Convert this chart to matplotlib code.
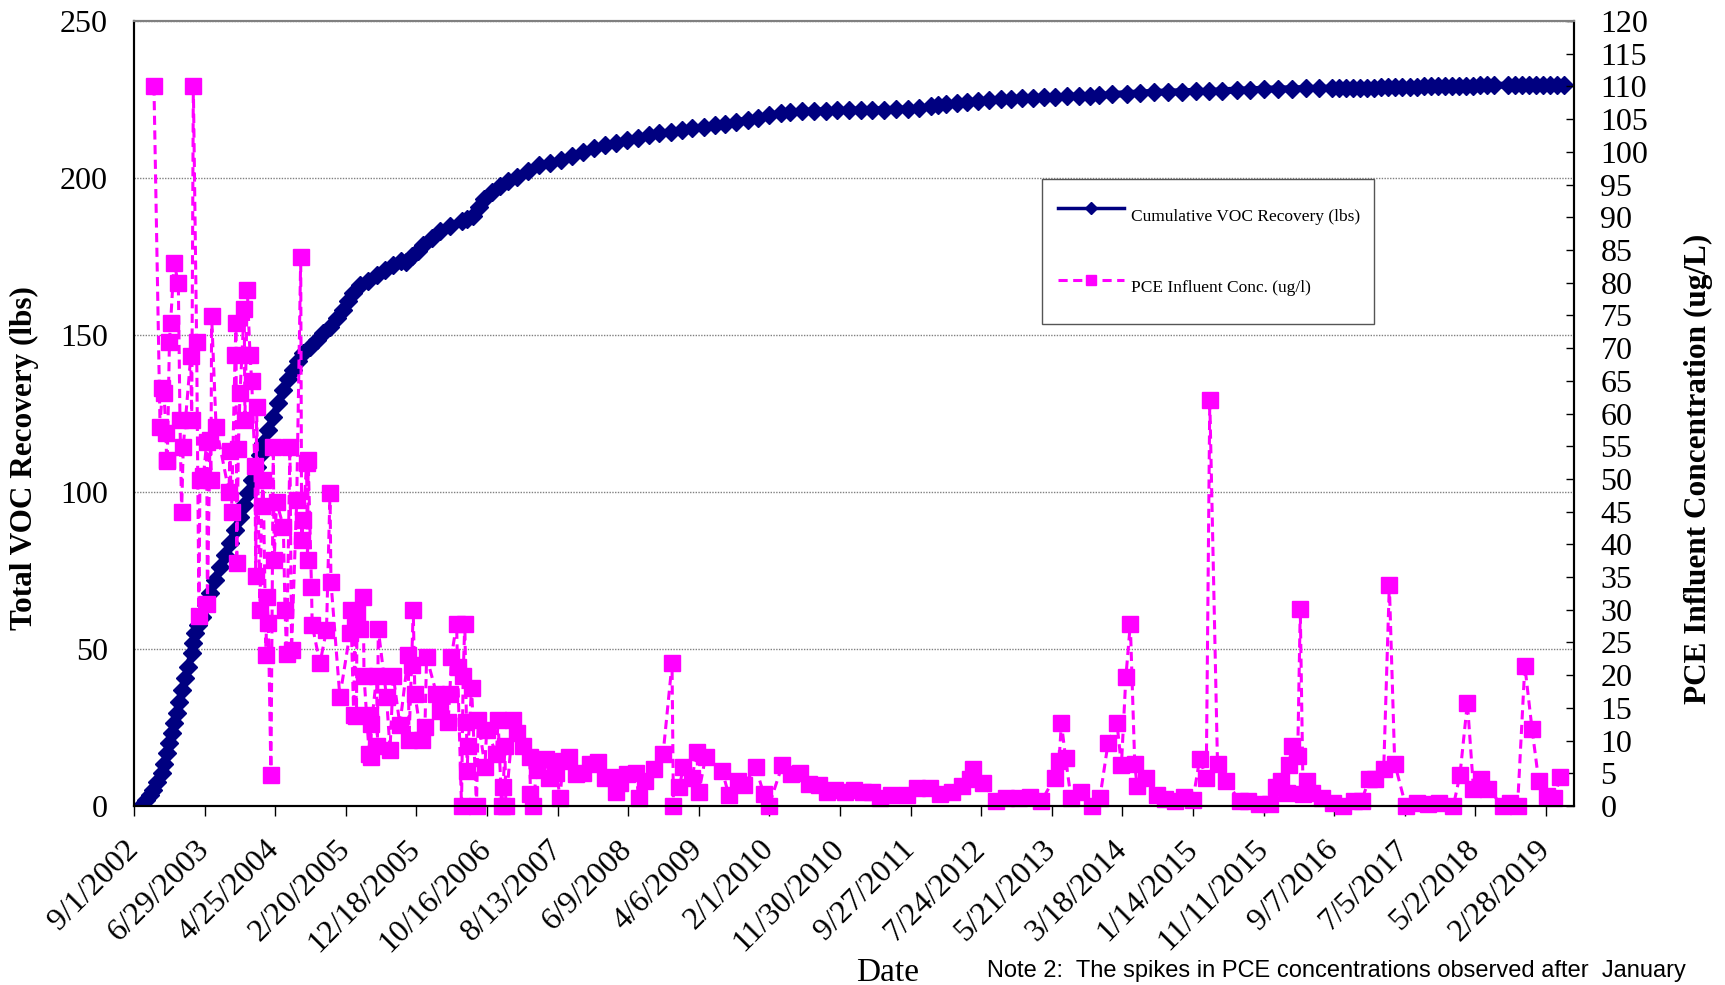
import numpy as np
import pandas as pd
import matplotlib
matplotlib.use("Agg")
import matplotlib.pyplot as plt
from matplotlib.lines import Line2D

START = np.datetime64("2002-09-01")

# Cumulative VOC recovery: days after 9/1/2002, pounds
voc_day = [33, 50, 66, 82, 100, 118, 129, 139, 150, 161, 172, 182, 193, 203, 218, 232,
           246, 253, 260, 274, 289, 306, 324, 345, 367, 388, 409, 430, 452, 470, 487,
           505, 523, 537, 551, 572, 594, 615, 636, 657, 679, 700, 722, 750, 779, 808,
           836, 864, 892, 914, 935, 963, 1000, 1035, 1070, 1105, 1140, 1160, 1187,
           1210, 1234, 1270, 1304, 1350, 1398, 1420, 1445, 1470, 1492, 1527, 1562,
           1597, 1633, 1680, 1727, 1773, 1820, 1867, 1914, 1961, 2008, 2055, 2102,
           2150, 2195, 2240, 2290, 2336, 2380, 2430, 2477, 2520, 2570, 2617, 2660,
           2710, 2758, 2800, 2850, 2899, 2950, 3000, 3050, 3100, 3150, 3200, 3250,
           3300, 3350, 3400, 3430, 3462, 3510, 3555, 3600, 3649, 3700, 3743, 3790,
           3837, 3880, 3930, 3978, 4030, 4080, 4118, 4170, 4235, 4290, 4352, 4410,
           4470, 4530, 4587, 4640, 4704, 4760, 4821, 4880, 4940, 5000, 5056, 5110,
           5141, 5171, 5201, 5231, 5261, 5291, 5321, 5351, 5381, 5411, 5441, 5471,
           5501, 5531, 5561, 5591, 5621, 5651, 5681, 5711, 5741, 5771, 5801, 5860,
           5890, 5920, 5950, 5980, 6010, 6040, 6070, 6100]
voc_lbs = [0.3, 2.0, 3.5, 5.1, 7.8, 10.4, 13.5, 16.8, 20.0, 23.1, 26.4, 29.5, 33.0, 36.9,
           40.8, 44.4, 48.6, 51.8, 55.0, 57.8, 60.3, 64.0, 67.7, 72.0, 76.2, 80.0, 83.7,
           87.9, 92.1, 95.9, 99.6, 103.8, 108.0, 111.8, 115.5, 119.8, 124.0, 128.3,
           132.5, 135.9, 138.9, 141.8, 144.2, 146.3, 148.4, 150.6, 152.7, 155.4, 158.0,
           160.8, 163.3, 165.9, 167.2, 169.0, 170.6, 172.2, 173.5, 173.2, 175.0, 176.9,
           178.7, 181.0, 183.0, 184.8, 186.4, 187.0, 188.0, 190.8, 193.4, 195.6, 197.6,
           199.1, 200.4, 202.3, 204.0, 204.8, 205.6, 207.0, 208.4, 209.5, 210.5, 211.3,
           212.0, 212.8, 213.7, 214.2, 214.8, 215.4, 215.8, 216.3, 216.8, 217.3, 217.9,
           218.6, 219.2, 219.9, 220.7, 221.0, 221.2, 221.4, 221.4, 221.5, 221.6, 221.7,
           221.7, 221.8, 221.9, 222.0, 222.2, 222.8, 223.2, 223.5, 223.9, 224.3, 224.6,
           224.9, 225.1, 225.3, 225.5, 225.6, 225.8, 225.9, 226.0, 226.1, 226.2, 226.3,
           226.6, 226.9, 227.1, 227.3, 227.4, 227.5, 227.6, 227.6, 227.8, 228.0, 228.1,
           228.3, 228.4, 228.4, 228.5, 228.6, 228.6, 228.6, 228.6, 228.7, 228.7, 228.8,
           228.8, 228.9, 228.9, 229.0, 229.0, 229.1, 229.1, 229.2, 229.2, 229.3, 229.3,
           229.3, 229.4, 229.4, 229.4, 229.5, 229.5, 229.5, 229.6, 229.6, 229.6, 229.6,
           229.7, 229.7, 229.7, 229.7, 229.7]

# PCE influent concentration: days after 9/1/2002, ug/L
pce_day = [85, 111, 121, 128, 136, 139, 142, 151, 156, 171, 189, 196, 203, 210, 242, 246,
           253, 267, 277, 281, 296, 310, 313, 324, 328, 331, 350, 405, 409, 416, 431,
           435, 438, 445, 452, 470, 473, 483, 495, 502, 516, 519, 523, 537, 544, 551,
           563, 566, 573, 584, 594, 598, 608, 637, 644, 651, 665, 672, 694, 711, 715,
           722, 736, 740, 743, 757, 760, 793, 821, 836, 840, 878, 921, 925, 937, 942,
           949, 951, 964, 978, 981, 1003, 1006, 1009, 1013, 1035, 1038, 1042, 1077,
           1092, 1106, 1134, 1170, 1173, 1184, 1191, 1198, 1227, 1241, 1248, 1290,
           1305, 1340, 1347, 1354, 1376, 1380, 1397, 1404, 1411, 1418, 1421, 1425,
           1440, 1461, 1468, 1497, 1504, 1546, 1553, 1568, 1575, 1582, 1586, 1617,
           1632, 1660, 1688, 1691, 1703, 1717, 1758, 1772, 1802, 1818, 1829, 1857,
           1886, 1916, 1943, 1981, 2009, 2029, 2057, 2072, 2105, 2143, 2152, 2180,
           2219, 2257, 2295, 2301, 2326, 2343, 2381, 2400, 2410, 2438, 2509, 2537,
           2575, 2600, 2652, 2686, 2708, 2765, 2803, 2840, 2880, 2920, 2956, 2990,
           3032, 3070, 3108, 3150, 3184, 3230, 3299, 3340, 3394, 3440, 3489, 3530,
           3565, 3580, 3620, 3679, 3720, 3775, 3820, 3870, 3927, 3946, 3956, 3974,
           3997, 4041, 4088, 4120, 4155, 4193, 4212, 4231, 4250, 4269, 4279, 4317,
           4364, 4400, 4440, 4480, 4517, 4546, 4574, 4589, 4622, 4660, 4717, 4753,
           4800, 4847, 4870, 4894, 4917, 4925, 4941, 4964, 4975, 4987, 5003, 5027,
           5066, 5113, 5159, 5206, 5237, 5269, 5292, 5331, 5355, 5378, 5425, 5472,
           5519, 5566, 5628, 5656, 5688, 5714, 5745, 5777, 5839, 5870, 5902, 5933,
           5964, 5992, 6027, 6058, 6085]
pce_ugl = [110.0, 58.0, 63.9, 63.1, 57.0, 52.7, 52.9, 70.9, 73.9, 83.0, 79.9, 59.0, 45.0,
           54.9, 68.8, 59.0, 110.0, 71.0, 29.0, 49.8, 50.4, 55.7, 30.9, 56.0, 49.8, 74.9,
           58.0, 48.0, 54.2, 45.0, 68.9, 73.9, 37.1, 54.5, 63.1, 75.9, 59.0, 78.9, 68.9,
           64.9, 51.9, 35.1, 61.0, 30.0, 45.8, 49.8, 23.1, 32.0, 28.0, 4.7, 54.9, 37.6,
           46.5, 42.7, 30.0, 23.3, 54.9, 23.8, 46.8, 83.9, 40.7, 43.7, 52.4, 37.6, 52.9,
           33.5, 27.7, 21.8, 26.9, 47.9, 34.3, 16.7, 26.4, 30.0, 13.9, 27.4, 13.7, 29.5,
           27.0, 32.0, 19.9, 8.0, 13.9, 7.5, 12.6, 19.9, 9.1, 27.0, 16.7, 8.6, 19.9, 12.4,
           23.1, 10.1, 21.6, 30.0, 17.2, 10.1, 12.1, 22.8, 17.2, 14.6, 12.9, 17.2, 22.8,
           27.9, 21.3, 0.0, 19.9, 27.9, 12.9, 5.3, 9.1, 18.1, 0.0, 13.2, 6.0, 11.6, 8.0,
           13.2, 0.0, 2.9, 9.1, 0.0, 13.2, 11.1, 9.1, 7.5, 1.9, 0.0, 5.5, 7.2, 4.3, 5.0,
           1.2, 6.9, 7.5, 4.9, 5.0, 6.4, 6.7, 4.3, 4.5, 2.2, 3.5, 4.9, 5.1, 1.2, 3.9, 5.6,
           8.0, 21.8, 0.0, 2.9, 5.9, 4.3, 8.3, 2.2, 7.5, 5.4, 1.7, 3.8, 3.2, 5.9, 1.9, 0.0,
           6.2, 4.9, 5.0, 3.3, 3.2, 2.2, 2.5, 2.2, 2.5, 2.2, 2.2, 1.2, 1.7, 1.7, 2.7, 2.8,
           1.9, 2.2, 3.0, 4.1, 5.6, 3.5, 0.7, 1.2, 1.2, 1.4, 0.7, 4.3, 6.9, 12.7, 7.3, 1.2,
           2.2, 0.0, 1.2, 9.6, 12.7, 6.2, 19.7, 27.8, 6.4, 3.0, 4.3, 1.7, 1.0, 0.7, 1.4,
           0.9, 7.2, 4.3, 62.0, 6.4, 3.8, 0.7, 0.8, 0.3, 0.3, 2.9, 3.9, 2.0, 6.3, 9.1, 7.6,
           30.1, 1.8, 3.9, 2.0, 1.3, 0.5, 0.0, 0.8, 0.8, 4.2, 4.2, 5.7, 33.8, 6.5, 0.0,
           0.5, 0.3, 0.5, 0.0, 4.7, 15.8, 2.6, 4.2, 2.6, 0.0, 0.5, 0.0, 21.4, 11.7, 3.9,
           1.5, 1.3, 4.5]

tick_labels = ["9/1/2002", "6/29/2003", "4/25/2004", "2/20/2005", "12/18/2005",
               "10/16/2006", "8/13/2007", "6/9/2008", "4/6/2009", "2/1/2010",
               "11/30/2010", "9/27/2011", "7/24/2012", "5/21/2013", "3/18/2014",
               "1/14/2015", "11/11/2015", "9/7/2016", "7/5/2017", "5/2/2018",
               "2/28/2019"]

VOC_COLOR = "#000080"
PCE_COLOR = "#FF00FF"


def to_dates(days):
    return START + np.array(days, dtype="timedelta64[D]")


plt.rcParams["font.family"] = "Liberation Serif"

fig = plt.figure(figsize=(17.25, 9.85), dpi=100)
ax = fig.add_axes([0.0777, 0.1817, 0.8348, 0.797])
ax2 = ax.twinx()

# heavy line so the closely spaced diamonds read as one band
ax.plot(to_dates(voc_day), voc_lbs, color=VOC_COLOR, lw=5, marker="D", ms=9,
        mec=VOC_COLOR)
ax2.plot(to_dates(pce_day), pce_ugl, color=PCE_COLOR, lw=2.2, ls=(0, (3, 1.8)),
         marker="s", ms=11, mec=PCE_COLOR, clip_on=False)

ax.set_xlim(START, START + np.timedelta64(6143, "D"))
ax.set_ylim(0, 250)
ax2.set_ylim(0, 120)
ax.set_yticks(np.arange(0, 251, 50))
ax2.set_yticks(np.arange(0, 121, 5))

ax.set_xticks(pd.to_datetime(tick_labels, format="%m/%d/%Y"))
ax.set_xticklabels(tick_labels)
for lbl in ax.get_xticklabels():
    lbl.set_rotation(45)
    lbl.set_ha("right")
    lbl.set_va("center")
    lbl.set_rotation_mode("anchor")

ax.tick_params(axis="x", direction="out", length=7, width=1, pad=21, labelsize=23)
ax.tick_params(axis="y", length=0, pad=19, labelsize=23)
ax2.tick_params(axis="y", direction="in", length=6, width=1, pad=19, labelsize=23)

ax.yaxis.grid(True, linestyle=(0, (1, 1)), color="#808080", lw=1)
ax.set_axisbelow(True)

for a in (ax, ax2):
    for side in ("left", "bottom", "right"):
        a.spines[side].set_color("black")
        a.spines[side].set_linewidth(1.5)
    a.spines["top"].set_color("#808080")
    a.spines["top"].set_linewidth(1.5)

fig.text(24 / 1725, 1 - 458 / 985, "Total VOC Recovery (lbs)", rotation=90,
         ha="center", va="center", fontsize=22.5, fontweight="bold")
fig.text(1698 / 1725, 1 - 469 / 985, "PCE Influent Concentration (ug/L)", rotation=90,
         ha="center", va="center", fontsize=22.5, fontweight="bold")
fig.text(888 / 1725, 1 - 981 / 985, "Date", ha="center", va="baseline", fontsize=24)
# footnote sits in the bottom-right corner under the date labels
fig.text(987 / 1725, 1 - 960 / 985,
         "Note 2:  The spikes in PCE concentrations observed after  January",
         ha="left", va="top", fontsize=17, family="Liberation Sans")

handles = [
    Line2D([], [], color=VOC_COLOR, lw=2.5, marker="D", ms=6, mec=VOC_COLOR),
    Line2D([], [], color=PCE_COLOR, lw=2.2, ls=(0, (3, 1.8)), marker="s", ms=7,
           mec=PCE_COLOR),
]
labels = ["Cumulative VOC Recovery (lbs)", "PCE Influent Conc. (ug/l)"]
leg = ax2.legend(handles, labels, loc="upper left",
                 bbox_to_anchor=(1042 / 1725, 0.60, 332 / 1725, 1 - 179 / 985 - 0.60),
                 bbox_transform=fig.transFigure, mode="expand", borderaxespad=0,
                 fontsize=12.5, borderpad=0.95, labelspacing=1.8, handlelength=3.8,
                 handleheight=3.2, handletextpad=0.4, fancybox=False, framealpha=1)
leg.get_frame().set_edgecolor("#555555")
leg.get_frame().set_linewidth(1)

fig.savefig("out.png", dpi=100)
